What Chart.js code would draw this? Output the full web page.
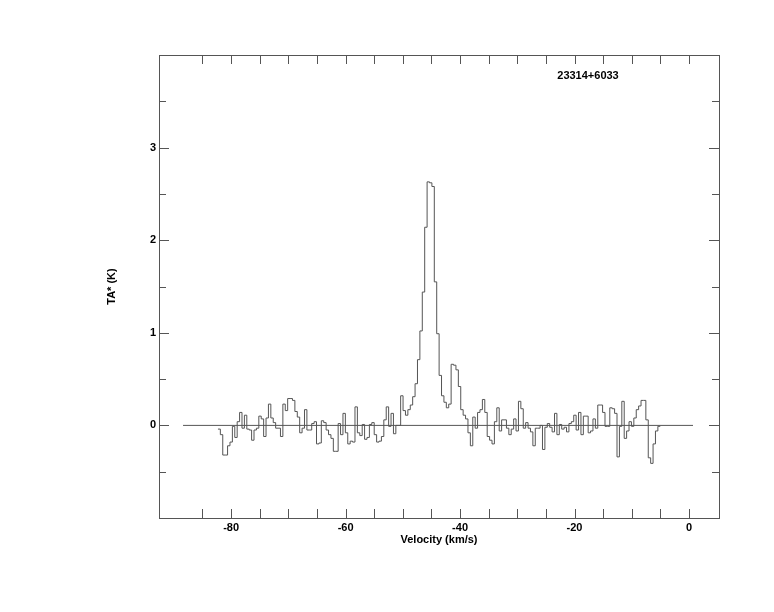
<!DOCTYPE html>
<html>
<head>
<meta charset="utf-8">
<script src="https://cdn.jsdelivr.net/npm/chart.js@4.4.1/dist/chart.umd.min.js"></script>
<style>
  html, body { margin: 0; padding: 0; background: #fff; }
  canvas { display: block; }
</style>
</head>
<body>
<canvas id="chart" width="774" height="612"></canvas>
<script>
// spectrum: 23314+6033, channels of 0.42 km/s starting at -82.3 km/s (left edge)
const sourceName = '23314+6033';
const velStart = -82.3;
const chanWidth = 0.42;
const taValues = [
    -0.04, -0.10, -0.32, -0.32, -0.22, -0.18, -0.01, -0.13, 0.04, 0.14,
    -0.03, 0.11, -0.04, -0.05, -0.16, -0.05, -0.03, 0.10, 0.07,
    -0.12, 0.08, 0.23, 0.08, 0.03, -0.03, -0.03, -0.12, 0.23, 0.16,
    0.29, 0.29, 0.27, 0.15, 0.09, -0.08, -0.03, 0.17, -0.05, -0.05,
    0.02, 0.04, -0.20, -0.19, 0.05, 0.03, -0.05,
    -0.10, -0.14, -0.28, -0.28, 0.02, -0.10, 0.13, -0.08, -0.20, -0.17,
    -0.18, 0.20, -0.08, -0.11, 0.01, -0.15, -0.13, 0.01, 0.03, -0.10,
    -0.18, -0.17, -0.12, 0.06, 0.20, -0.01, 0.13, -0.09, 0.00, 0.00,
    0.32, 0.16, 0.11, 0.17, 0.22, 0.31, 0.45, 0.71, 1.02, 1.44,
    2.14, 2.63, 2.62, 2.58, 1.55, 0.99, 0.54, 0.32, 0.25, 0.19,
    0.23, 0.66, 0.65, 0.60, 0.42, 0.17,
    0.11, 0.07, -0.08, -0.22, 0.09, -0.03, 0.14, 0.17, 0.28, 0.14,
    -0.12, -0.16, -0.20, 0.04, 0.19, -0.06, 0.06, 0.06, -0.03, -0.10,
    -0.04, 0.07, -0.06, 0.26, 0.18, -0.03, 0.03, -0.03, -0.07, -0.22,
    -0.03, -0.03, 0.00, -0.26, -0.02, 0.02,
    -0.02, -0.07, 0.13, -0.10, 0.01, -0.04, -0.02, -0.07, 0.02, 0.04,
    0.11, -0.05, 0.14, -0.10, 0.10, 0.10, -0.08, -0.06, 0.07, -0.03,
    0.22, 0.22, 0.14, -0.01, -0.01, 0.19, 0.18, 0.13, -0.34, -0.01,
    0.26, -0.14, -0.06, 0.04, -0.01, 0.08, 0.17, 0.21, 0.27, 0.27,
    0.06, -0.35, -0.41, -0.20, -0.06, -0.01
];
const baselineVel = [-88.4, 0.7];

// axes
const xTickLabels = [-80, -60, -40, -20, 0];
const yTickLabels = [0, 1, 2, 3];
const xTickMarks = [-85, -80, -75, -70, -65, -60, -55, -50, -45, -40, -35, -30, -25, -20, -15, -10, -5, 0];
const yTickMarks = [-0.5, 0, 0.5, 1, 1.5, 2, 2.5, 3, 3.5];

(() => {
    const lineColor = '#555';
    const font = { family: '"Liberation Sans", Arial, Helvetica, sans-serif', size: 11, weight: 'bold' };

    // histogram points on channel left edges, plus the last right edge
    const spectrum = taValues.map((v, i) => ({ x: velStart + i * chanWidth, y: v }));
    spectrum.push({ x: velStart + taValues.length * chanWidth, y: taValues[taValues.length - 1] });

    const frameTicks = {
        id: 'frameTicks',
        afterDatasetsDraw(chart) {
            const { ctx, chartArea: a, scales: { x, y } } = chart;
            ctx.save();
            ctx.strokeStyle = lineColor;
            ctx.lineWidth = 1;
            ctx.strokeRect(Math.round(a.left) + 0.5, Math.round(a.top) + 0.5,
                Math.round(a.width), Math.round(a.height));
            ctx.beginPath();
            xTickMarks.forEach(v => {
                const px = Math.round(x.getPixelForValue(v)) + 0.5;
                ctx.moveTo(px, a.bottom);
                ctx.lineTo(px, a.bottom - 9);
                ctx.moveTo(px, a.top);
                ctx.lineTo(px, a.top + 9);
            });
            yTickMarks.forEach(v => {
                const py = Math.round(y.getPixelForValue(v)) + 0.5;
                const len = Number.isInteger(v) ? 10 : 7;
                ctx.moveTo(a.left, py);
                ctx.lineTo(a.left + len, py);
                ctx.moveTo(a.right, py);
                ctx.lineTo(a.right - len, py);
            });
            ctx.stroke();

            ctx.fillStyle = '#000';
            ctx.font = 'bold 11px "Liberation Sans", Arial, Helvetica, sans-serif';
            ctx.textAlign = 'center';
            ctx.textBaseline = 'middle';
            ctx.fillText(sourceName, a.right - 131, a.top + 21);
            ctx.restore();
        }
    };

    const config = {
        type: 'line',
        data: {
            datasets: [{
                label: 'baseline',
                data: baselineVel.map(v => ({ x: v, y: 0 })),
                borderColor: lineColor,
                borderWidth: 1,
                pointRadius: 0
            }, {
                label: sourceName,
                data: spectrum,
                stepped: 'before',
                borderColor: lineColor,
                borderWidth: 1,
                pointRadius: 0
            }]
        },
        options: {
            responsive: false,
            animation: false,
            layout: { padding: { top: 55, right: 55, left: 0, bottom: 0 } },
            plugins: {
                legend: { display: false },
                tooltip: { enabled: false }
            },
            scales: {
                x: {
                    type: 'linear',
                    min: -92.6,
                    max: 5.24,
                    afterFit: s => { s.height = 94; },
                    grid: { display: false, drawTicks: false },
                    border: { display: false },
                    ticks: {
                        stepSize: 20,
                        includeBounds: false,
                        autoSkip: false,
                        maxRotation: 0,
                        padding: 3,
                        color: '#000',
                        font: font,
                        callback: v => xTickLabels.includes(v) ? String(v) : ''
                    },
                    title: {
                        display: true,
                        text: 'Velocity (km/s)',
                        color: '#000',
                        font: font,
                        padding: { top: 0, bottom: 65 }
                    }
                },
                y: {
                    type: 'linear',
                    min: -1,
                    max: 4,
                    afterFit: s => { s.width = 159; },
                    grid: { display: false, drawTicks: false },
                    border: { display: false },
                    ticks: {
                        stepSize: 1,
                        padding: 3,
                        color: '#000',
                        font: font,
                        callback: v => yTickLabels.includes(v) ? String(v) : ''
                    },
                    title: {
                        display: true,
                        text: 'TA* (K)',
                        color: '#000',
                        font: font,
                        padding: { top: 105, bottom: 0 }
                    }
                }
            }
        },
        plugins: [frameTicks]
    };

    const chart = new Chart(document.getElementById('chart'), config);
})();
</script>
</body>
</html>
